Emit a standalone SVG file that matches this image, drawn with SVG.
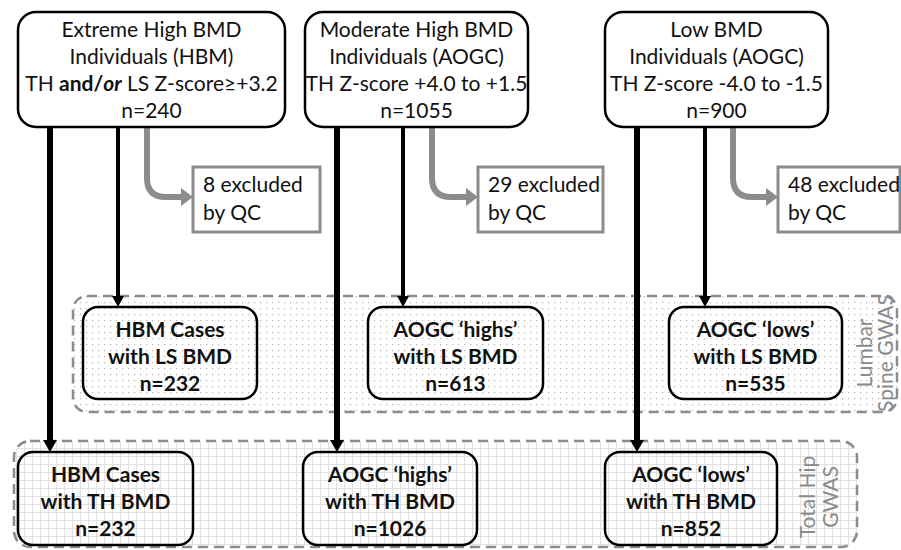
<svg xmlns="http://www.w3.org/2000/svg" width="901" height="550" viewBox="0 0 901 550">
  <defs>
    <pattern id="dots" width="6" height="6" patternUnits="userSpaceOnUse">
      <rect width="6" height="6" fill="#ffffff"/>
      <rect x="2" y="2" width="1.2" height="1.2" fill="#b4b4b4"/>
    </pattern>
    <pattern id="grid" width="8" height="8" patternUnits="userSpaceOnUse">
      <rect width="8" height="8" fill="#ffffff"/>
      <path d="M0,0.5 H8 M0.5,0 V8" stroke="#e0e0e0" stroke-width="1" fill="none"/>
    </pattern>
    <marker id="headBig" viewBox="0 -8 12 16" refX="0" refY="0" markerWidth="12" markerHeight="16" markerUnits="userSpaceOnUse" orient="auto">
      <path d="M0,-7 L12,0 L0,7 z" fill="#000"/>
    </marker>
    <marker id="headSmall" viewBox="0 -7 11 14" refX="0" refY="0" markerWidth="11" markerHeight="14" markerUnits="userSpaceOnUse" orient="auto">
      <path d="M0,-6 L11,0 L0,6 z" fill="#000"/>
    </marker>
    <marker id="headGrey" viewBox="0 -9 12 18" refX="0" refY="0" markerWidth="12" markerHeight="18" markerUnits="userSpaceOnUse" orient="auto">
      <path d="M0,-9 L12,0 L0,9 z" fill="#8c8c8c"/>
    </marker>
  </defs>
  <style>
    text { font-family: Lato, "Liberation Sans", sans-serif; fill: #111; }
    .top { font-size: 21px; text-anchor: middle; }
    .res { font-size: 21px; font-weight: bold; text-anchor: middle; }
    .exc { font-size: 21px; }
    .side { font-size: 21px; fill: #8a8a8a; text-anchor: middle; }
    .box { fill: #ffffff; stroke: #000; stroke-width: 2.5; }
    .rbox { fill: none; stroke: #000; stroke-width: 2.5; }
    .xbox { fill: #ffffff; stroke: #8c8c8c; stroke-width: 3; }
    .zone { stroke: #8c8c8c; stroke-width: 2.5; stroke-dasharray: 10 6; }
    .long { stroke: #000; stroke-width: 6; fill: none; marker-end: url(#headBig); }
    .short { stroke: #000; stroke-width: 4; fill: none; marker-end: url(#headSmall); }
    .drop { stroke: #8c8c8c; stroke-width: 6; fill: none; marker-end: url(#headGrey); }
  </style>

  <!-- analysis zones -->
  <g id="zone-ls">
    <rect class="zone" x="73" y="296" width="824" height="116" rx="14" fill="url(#dots)"/>
    <text class="side" transform="translate(872,353) rotate(-90)">Lumbar</text>
    <text class="side" transform="translate(893,353) rotate(-90)">Spine GWAS</text>
  </g>
  <g id="zone-th">
    <rect class="zone" x="14" y="441" width="843" height="106" rx="16" fill="url(#grid)"/>
    <text class="side" transform="translate(815,497) rotate(-90)">Total Hip</text>
    <text class="side" transform="translate(838,497) rotate(-90)">GWAS</text>
  </g>

  <!-- connectors -->
  <g id="connectors">
    <line class="long" x1="50" y1="127" x2="50" y2="440"/>
    <line class="short" x1="118" y1="127" x2="118" y2="296"/>
    <path class="drop" d="M147,127 V178 Q147,197 166,197 H181"/>

    <line class="long" x1="337" y1="127" x2="337" y2="440"/>
    <line class="short" x1="403" y1="127" x2="403" y2="296"/>
    <path class="drop" d="M432,127 V178 Q432,197 451,197 H466"/>

    <line class="long" x1="637" y1="127" x2="637" y2="440"/>
    <line class="short" x1="705" y1="127" x2="705" y2="296"/>
    <path class="drop" d="M733,127 V178 Q733,197 752,197 H766"/>
  </g>

  <!-- source cohorts -->
  <g id="hbm">
    <rect class="box" x="18" y="12" width="267" height="115" rx="18"/>
    <text class="top" x="151.5" y="37">Extreme High BMD</text>
    <text class="top" x="151.5" y="64">Individuals (HBM)</text>
    <text class="top" x="151.5" y="91">TH <tspan font-weight="bold">and/<tspan font-style="italic">or</tspan></tspan> LS Z-score≥+3.2</text>
    <text class="top" x="151.5" y="118">n=240</text>
  </g>
  <g id="aogc-high">
    <rect class="box" x="305" y="12" width="223" height="115" rx="18"/>
    <text class="top" x="416.5" y="37">Moderate High BMD</text>
    <text class="top" x="416.5" y="64">Individuals (AOGC)</text>
    <text class="top" x="416.5" y="91">TH Z-score +4.0 to +1.5</text>
    <text class="top" x="416.5" y="118">n=1055</text>
  </g>
  <g id="aogc-low">
    <rect class="box" x="605" y="12" width="223" height="115" rx="18"/>
    <text class="top" x="716.5" y="37">Low BMD</text>
    <text class="top" x="716.5" y="64">Individuals (AOGC)</text>
    <text class="top" x="716.5" y="91">TH Z-score -4.0 to -1.5</text>
    <text class="top" x="716.5" y="118">n=900</text>
  </g>

  <!-- QC exclusions -->
  <g id="qc-hbm">
    <rect class="xbox" x="193" y="167" width="127" height="65"/>
    <text class="exc" x="203" y="192">8 excluded</text>
    <text class="exc" x="203" y="220">by QC</text>
  </g>
  <g id="qc-high">
    <rect class="xbox" x="478" y="167" width="125" height="65"/>
    <text class="exc" x="488" y="192">29 excluded</text>
    <text class="exc" x="488" y="220">by QC</text>
  </g>
  <g id="qc-low">
    <rect class="xbox" x="778" y="167" width="122" height="65"/>
    <text class="exc" x="788" y="192">48 excluded</text>
    <text class="exc" x="788" y="220">by QC</text>
  </g>

  <!-- lumbar spine samples -->
  <g id="ls-hbm">
    <rect class="rbox" x="83" y="307" width="174" height="92" rx="15"/>
    <text class="res" x="170" y="337">HBM Cases</text>
    <text class="res" x="170" y="364">with LS BMD</text>
    <text class="res" x="170" y="391">n=232</text>
  </g>
  <g id="ls-high">
    <rect class="rbox" x="368" y="307" width="175" height="92" rx="15"/>
    <text class="res" x="455.5" y="337">AOGC ‘highs’</text>
    <text class="res" x="455.5" y="364">with LS BMD</text>
    <text class="res" x="455.5" y="391">n=613</text>
  </g>
  <g id="ls-low">
    <rect class="rbox" x="669" y="307" width="173" height="92" rx="15"/>
    <text class="res" x="755.5" y="337">AOGC ‘lows’</text>
    <text class="res" x="755.5" y="364">with LS BMD</text>
    <text class="res" x="755.5" y="391">n=535</text>
  </g>

  <!-- total hip samples -->
  <g id="th-hbm">
    <rect class="rbox" x="18" y="452" width="175" height="93" rx="15"/>
    <text class="res" x="105.5" y="482">HBM Cases</text>
    <text class="res" x="105.5" y="509">with TH BMD</text>
    <text class="res" x="105.5" y="536">n=232</text>
  </g>
  <g id="th-high">
    <rect class="rbox" x="303" y="452" width="174" height="93" rx="15"/>
    <text class="res" x="390" y="482">AOGC ‘highs’</text>
    <text class="res" x="390" y="509">with TH BMD</text>
    <text class="res" x="390" y="536">n=1026</text>
  </g>
  <g id="th-low">
    <rect class="rbox" x="605" y="452" width="172" height="93" rx="15"/>
    <text class="res" x="691" y="482">AOGC ‘lows’</text>
    <text class="res" x="691" y="509">with TH BMD</text>
    <text class="res" x="691" y="536">n=852</text>
  </g>
</svg>
